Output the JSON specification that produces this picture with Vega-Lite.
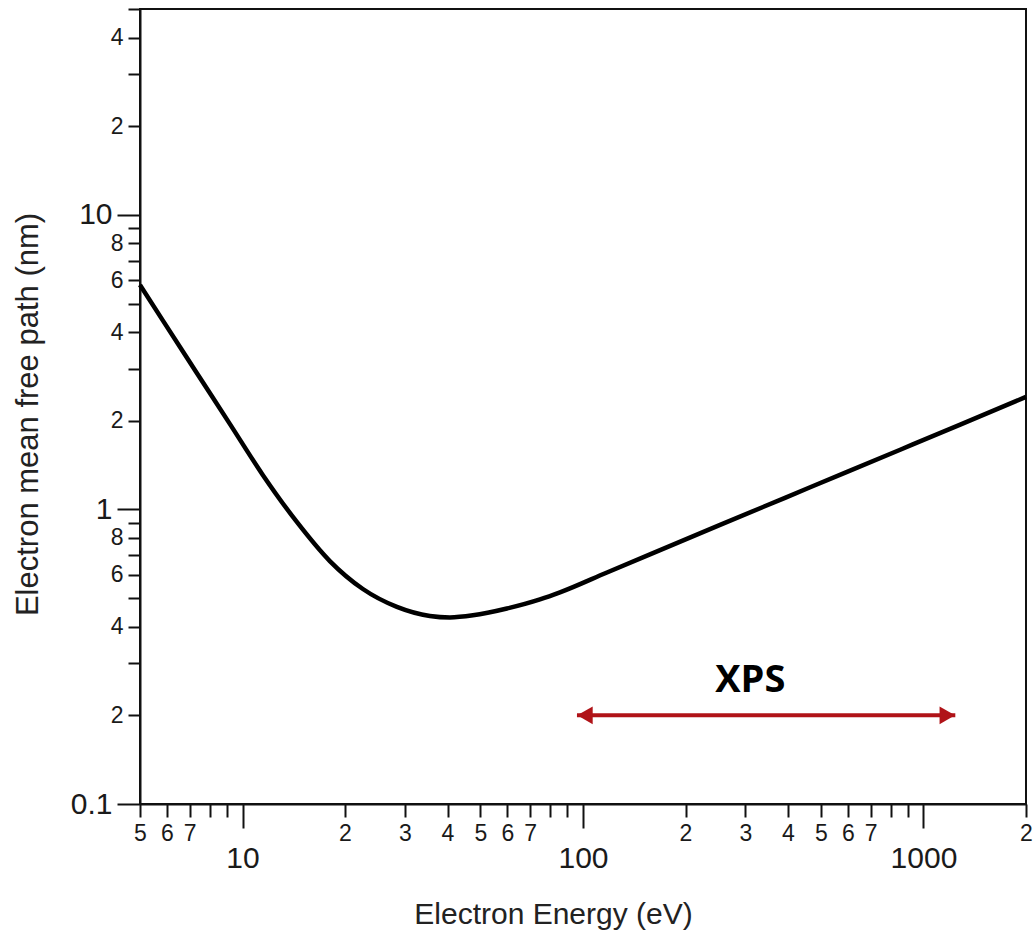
{
  "$schema": "https://vega.github.io/schema/vega-lite/v6.json",
  "width": 886,
  "height": 795,
  "autosize": {"type": "none"},
  "padding": {"left": 140, "top": 9, "right": 9, "bottom": 133},
  "background": "white",
  "config": {
    "view": {"stroke": "#111", "strokeWidth": 2},
    "font": "Liberation Sans",
    "axis": {
      "domainColor": "#111",
      "domainWidth": 2,
      "tickColor": "#111",
      "tickWidth": 2,
      "labelColor": "#1a1a1a",
      "titleColor": "#222",
      "labelFont": "Liberation Sans",
      "titleFont": "Liberation Sans",
      "titleFontWeight": "normal",
      "grid": false
    }
  },
  "datasets": {
    "curve": [
      {"energy": 5, "path": 5.785},
      {"energy": 5.845, "path": 4.366},
      {"energy": 7.325, "path": 2.918},
      {"energy": 9.178, "path": 1.952},
      {"energy": 11.47, "path": 1.31},
      {"energy": 14.44, "path": 0.907},
      {"energy": 18.05, "path": 0.668},
      {"energy": 22.57, "path": 0.537},
      {"energy": 28.41, "path": 0.467},
      {"energy": 35.51, "path": 0.435},
      {"energy": 40.66, "path": 0.43},
      {"energy": 47.51, "path": 0.437},
      {"energy": 59.78, "path": 0.461},
      {"energy": 74.74, "path": 0.495},
      {"energy": 85.57, "path": 0.523},
      {"energy": 117.6, "path": 0.611},
      {"energy": 157.3, "path": 0.704},
      {"energy": 252.7, "path": 0.886},
      {"energy": 464.7, "path": 1.189},
      {"energy": 854.2, "path": 1.595},
      {"energy": 1282, "path": 1.941},
      {"energy": 2000, "path": 2.41}
    ],
    "arrow": [
      {"start": 96, "end": 1240, "level": 0.2}
    ],
    "label": [
      {"energy": 310, "path": 0.262, "text": "XPS"}
    ]
  },
  "layer": [
    {
      "data": {"name": "curve"},
      "mark": {"type": "line", "color": "#000", "strokeWidth": 4.5, "interpolate": "monotone"},
      "encoding": {
        "x": {
          "field": "energy", "type": "quantitative",
          "scale": {"type": "log", "domain": [5, 2000], "nice": false},
          "axis": {
            "values": [5, 6, 7, 8, 9, 10, 20, 30, 40, 50, 60, 70, 80, 90, 100, 200, 300, 400, 500, 600, 700, 800, 900, 1000, 2000],
            "format": "d",
            "labelExpr": "indexof([8,9,80,90,800,900], datum.value) >= 0 ? '' : (indexof([10,100,1000], datum.value) >= 0 ? datum.label : substring(datum.label, 0, 1))",
            "tickSize": {"condition": {"test": "datum.value == 10 || datum.value == 100 || datum.value == 1000", "value": 24}, "value": 13},
            "labelFontSize": {"condition": {"test": "datum.value == 10 || datum.value == 100 || datum.value == 1000", "value": 30}, "value": 23},
            "labelPadding": {"condition": {"test": "datum.value == 10 || datum.value == 100 || datum.value == 1000", "value": 15}, "value": 5},
            "labelOverlap": false,
            "labelFlush": false,
            "title": "Electron Energy (eV)",
            "titleFontSize": 30,
            "titleX": 413,
            "titleY": 110,
            "titleBaseline": "middle",
            "titleAnchor": null,
            "titleAlign": "center"
          }
        },
        "y": {
          "field": "path", "type": "quantitative",
          "scale": {"type": "log", "domain": [0.1, 50], "nice": false},
          "axis": {
            "values": [0.1, 0.2, 0.3, 0.4, 0.5, 0.6, 0.7, 0.8, 0.9, 1, 2, 3, 4, 5, 6, 7, 8, 9, 10, 20, 30, 40, 50],
            "labelExpr": "indexof([0.1,1,10], datum.value) >= 0 ? datum.label : (indexof([0.2,0.4,0.6,0.8], datum.value) >= 0 ? format(datum.value*10, 'd') : (indexof([2,4,6,8], datum.value) >= 0 ? format(datum.value, 'd') : (indexof([20,40], datum.value) >= 0 ? format(datum.value/10, 'd') : '')))",
            "tickSize": {"condition": {"test": "datum.value == 0.1 || datum.value == 1 || datum.value == 10", "value": 23}, "value": 12},
            "labelFontSize": {"condition": {"test": "datum.value == 0.1 || datum.value == 1 || datum.value == 10", "value": 30}, "value": 23},
            "labelPadding": 5,
            "labelOverlap": false,
            "labelFlush": false,
            "title": "Electron mean free path (nm)",
            "titleFontSize": 31,
            "titleX": -112,
            "titleY": 405,
            "titleBaseline": "middle",
            "titleAlign": "center",
            "titleAnchor": null
          }
        }
      }
    },
    {
      "data": {"name": "arrow"},
      "mark": {"type": "rule", "color": "#b01318", "strokeWidth": 4},
      "encoding": {
        "x": {"field": "start", "type": "quantitative"},
        "x2": {"field": "end"},
        "y": {"field": "level", "type": "quantitative"}
      }
    },
    {
      "data": {"name": "arrow"},
      "mark": {"type": "point", "shape": "triangle-left", "filled": true, "color": "#b01318", "opacity": 1, "size": 320, "xOffset": 8},
      "encoding": {
        "x": {"field": "start", "type": "quantitative"},
        "y": {"field": "level", "type": "quantitative"}
      }
    },
    {
      "data": {"name": "arrow"},
      "mark": {"type": "point", "shape": "triangle-right", "filled": true, "color": "#b01318", "opacity": 1, "size": 320, "xOffset": -8},
      "encoding": {
        "x": {"field": "end", "type": "quantitative"},
        "y": {"field": "level", "type": "quantitative"}
      }
    },
    {
      "data": {"name": "label"},
      "mark": {"type": "text", "font": "Open Sans", "fontWeight": "bold", "fontSize": 38, "color": "#000", "align": "center", "baseline": "middle"},
      "encoding": {
        "x": {"field": "energy", "type": "quantitative"},
        "y": {"field": "path", "type": "quantitative"},
        "text": {"field": "text"}
      }
    }
  ]
}
